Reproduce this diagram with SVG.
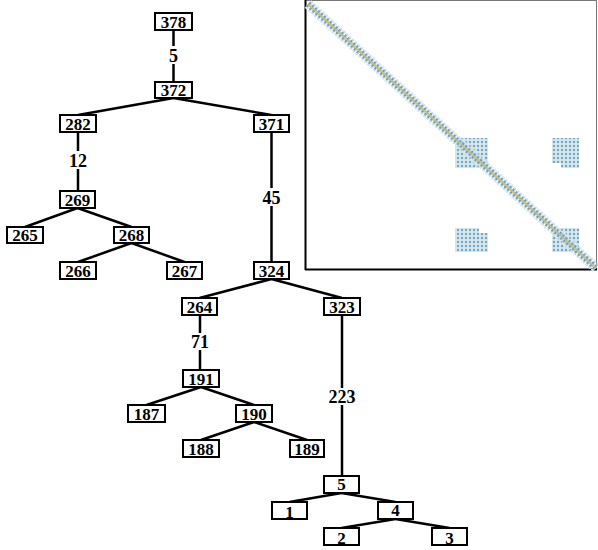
<svg xmlns="http://www.w3.org/2000/svg" width="598" height="550" viewBox="0 0 598 550">
<style>
.n rect{fill:#fff;stroke:#000;stroke-width:2}
.n text,.lbl text{font-family:"Liberation Serif",serif;font-weight:bold;font-size:17px;text-anchor:middle;fill:#000}
.lbl text{font-size:18px}
.e line{stroke:#000;stroke-width:2.5}
.lbl rect{fill:#fff}
</style>
<defs>
<pattern id="dots" width="4" height="4" patternUnits="userSpaceOnUse">
<rect width="4" height="4" fill="#d9e8ea"/>
<circle cx="2" cy="2" r="1.2" fill="#73a6c8"/>
</pattern>
</defs>
<g id="matrix">
<rect x="305.5" y="0.5" width="291" height="269" fill="#fff" stroke="#777" stroke-width="1"/>
<line x1="305.5" y1="0" x2="305.5" y2="270" stroke="#000" stroke-width="2"/>
<line x1="305" y1="269.5" x2="597" y2="269.5" stroke="#000" stroke-width="2"/>
<rect x="455" y="138" width="33" height="30" fill="url(#dots)"/>
<path d="M552 138h27v30h-18v-5h-9z" fill="url(#dots)"/>
<path d="M455 228h24v5h9v19h-33z" fill="url(#dots)"/>
<rect x="552" y="228" width="27" height="24" fill="url(#dots)"/>
<line x1="308" y1="4" x2="596" y2="268" stroke="#d2e3e8" stroke-width="10" stroke-dasharray="3 1"/>
<line x1="308" y1="4" x2="596" y2="268" stroke="#6c9fc9" stroke-width="6" stroke-dasharray="2 2"/>
<line x1="308" y1="4" x2="596" y2="268" stroke="#a9c8d6" stroke-width="3" stroke-dasharray="2 2" stroke-dashoffset="2"/>
<line x1="308" y1="4" x2="596" y2="268" stroke="#e3bf55" stroke-width="1.2"/>
</g>
<g id="connectors" class="e">
<line x1="173.5" y1="30" x2="173.5" y2="82"/>
<line x1="173.5" y1="98" x2="78" y2="115"/>
<line x1="173.5" y1="98" x2="271.5" y2="115"/>
<line x1="78" y1="132" x2="78" y2="191"/>
<line x1="271.5" y1="132" x2="271.5" y2="262"/>
<line x1="77.5" y1="208" x2="25" y2="227"/>
<line x1="77.5" y1="208" x2="131.5" y2="227"/>
<line x1="131.5" y1="243" x2="78" y2="262"/>
<line x1="131.5" y1="243" x2="184.5" y2="262"/>
<line x1="271.5" y1="279" x2="199.5" y2="298"/>
<line x1="271.5" y1="279" x2="342" y2="298"/>
<line x1="200" y1="315" x2="200" y2="370"/>
<line x1="342" y1="315" x2="342" y2="476"/>
<line x1="201" y1="387" x2="146.5" y2="405"/>
<line x1="201" y1="387" x2="254" y2="405"/>
<line x1="254" y1="422" x2="201" y2="440"/>
<line x1="254" y1="422" x2="307" y2="440"/>
<line x1="341.5" y1="493" x2="289.5" y2="502"/>
<line x1="341.5" y1="493" x2="395.5" y2="502"/>
<line x1="395.5" y1="519" x2="341.5" y2="528"/>
<line x1="395.5" y1="519" x2="449.5" y2="528"/>
</g>
<g id="labels" class="lbl">
<rect x="167" y="46" width="13" height="18"/><text x="173.5" y="62">5</text>
<rect x="68" y="151" width="20" height="18"/><text x="78" y="167">12</text>
<rect x="261" y="188" width="21" height="18"/><text x="271.5" y="204">45</text>
<rect x="190" y="333" width="20" height="17"/><text x="200" y="348">71</text>
<rect x="328" y="388" width="28" height="17"/><text x="342" y="403">223</text>
</g>
<g id="n378" class="n"><rect x="155" y="13" width="37" height="17"/><text x="173.5" y="28">378</text></g>
<g id="n372" class="n"><rect x="155" y="82" width="37" height="16"/><text x="173.5" y="96">372</text></g>
<g id="n282" class="n"><rect x="60" y="115" width="36" height="17"/><text x="78" y="130">282</text></g>
<g id="n371" class="n"><rect x="254" y="115" width="35" height="17"/><text x="271.5" y="130">371</text></g>
<g id="n269" class="n"><rect x="60" y="191" width="35" height="17"/><text x="77.5" y="206">269</text></g>
<g id="n265" class="n"><rect x="7" y="227" width="36" height="16"/><text x="25" y="241">265</text></g>
<g id="n268" class="n"><rect x="114" y="227" width="35" height="16"/><text x="131.5" y="241">268</text></g>
<g id="n266" class="n"><rect x="60" y="262" width="36" height="17"/><text x="78" y="277">266</text></g>
<g id="n267" class="n"><rect x="167" y="262" width="35" height="17"/><text x="184.5" y="277">267</text></g>
<g id="n324" class="n"><rect x="254" y="262" width="35" height="17"/><text x="271.5" y="277">324</text></g>
<g id="n264" class="n"><rect x="182" y="298" width="35" height="17"/><text x="199.5" y="313">264</text></g>
<g id="n323" class="n"><rect x="324" y="298" width="36" height="17"/><text x="342" y="313">323</text></g>
<g id="n191" class="n"><rect x="183" y="370" width="36" height="17"/><text x="201" y="385">191</text></g>
<g id="n187" class="n"><rect x="128" y="405" width="37" height="17"/><text x="146.5" y="420">187</text></g>
<g id="n190" class="n"><rect x="236" y="405" width="36" height="17"/><text x="254" y="420">190</text></g>
<g id="n188" class="n"><rect x="183" y="440" width="36" height="17"/><text x="201" y="455">188</text></g>
<g id="n189" class="n"><rect x="290" y="440" width="34" height="17"/><text x="307" y="455">189</text></g>
<g id="n5" class="n"><rect x="324" y="476" width="35" height="17"/><text x="341.5" y="490">5</text></g>
<g id="n1" class="n"><rect x="272" y="502" width="35" height="17"/><text x="289.5" y="518">1</text></g>
<g id="n4" class="n"><rect x="378" y="502" width="35" height="17"/><text x="395.5" y="516">4</text></g>
<g id="n2" class="n"><rect x="324" y="528" width="35" height="17"/><text x="341.5" y="544">2</text></g>
<g id="n3" class="n"><rect x="432" y="528" width="35" height="17"/><text x="449.5" y="544">3</text></g>
</svg>
